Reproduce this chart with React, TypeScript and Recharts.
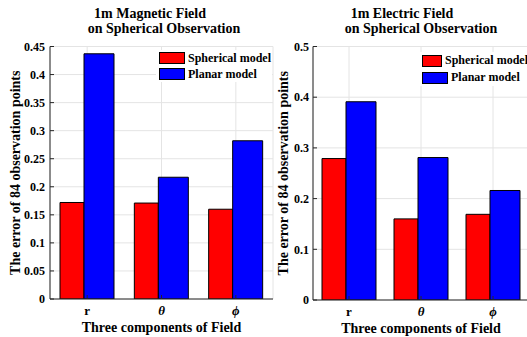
import React from 'react';
import { BarChart, Bar, XAxis, YAxis, CartesianGrid, Legend } from 'recharts';

const components = ['r', 'θ', 'ϕ'];
const seriesNames = ['Spherical model', 'Planar model'];
const magneticSpherical = [0.172, 0.171, 0.16];
const magneticPlanar = [0.437, 0.217, 0.282];
const electricSpherical = [0.279, 0.16, 0.169];
const electricPlanar = [0.391, 0.281, 0.216];
const magneticTicks = [0, 0.05, 0.1, 0.15, 0.2, 0.25, 0.3, 0.35, 0.4, 0.45];
const electricTicks = [0, 0.1, 0.2, 0.3, 0.4, 0.5];
const magneticTitle = ['1m Magnetic Field', 'on Spherical Observation'];
const electricTitle = ['1m Electric Field', 'on Spherical Observation'];
const yLabel = 'The error of 84 observation points';
const xLabel = 'Three components of Field';

const FONT = "'Liberation Serif', 'Times New Roman', serif";
const AXIS = '#262626';

const buildData = (sph: number[], pla: number[]) =>
  components.map((name, i) => ({ name, spherical: sph[i], planar: pla[i] }));

const XTick = (props: any) => {
  const { x, y, payload } = props;
  const greek = payload.value !== 'r';
  return (
    <text x={x} y={y} dy="0.71em" textAnchor="middle" fontFamily={FONT} fontWeight="bold"
      fontSize={13} fontStyle={greek ? 'italic' : 'normal'} fill="#000">
      {payload.value}
    </text>
  );
};

interface PanelProps {
  left: number;
  width: number;
  data: any[];
  ticks: number[];
  title: string[];
  titleX: number[];
  yLabelX: number;
  tickMargin: number;
  legendTop: number;
  legendRow: number;
  plotBottom: number;
}

const Panel: React.FC<PanelProps> = ({ left, width, data, ticks, title, titleX, yLabelX, tickMargin, legendTop, legendRow, plotBottom }) => {
  const top = ticks[ticks.length - 1];

  const renderLegend = (props: any) => {
    const items = [...(props.payload || [])].sort(
      (a: any, b: any) => seriesNames.indexOf(a.value) - seriesNames.indexOf(b.value)
    );
    return (
      <div style={{ background: '#fff', fontFamily: FONT, fontWeight: 'bold', fontSize: 12, color: '#000', paddingLeft: 3 }}>
        {items.map((entry: any) => (
          <div key={entry.value} style={{ display: 'flex', alignItems: 'center', height: legendRow, whiteSpace: 'nowrap' }}>
            <span style={{ display: 'inline-block', width: 26, height: 12, background: entry.color, border: '1px solid #000', boxSizing: 'border-box', marginRight: 3 }} />
            <span>{entry.value}</span>
          </div>
        ))}
      </div>
    );
  };

  const YTitle = (p: any) => {
    const cy = p.viewBox.y + p.viewBox.height / 2;
    return (
      <text x={yLabelX} y={cy} transform={`rotate(-90, ${yLabelX}, ${cy})`} textAnchor="middle"
        dominantBaseline="central" fontFamily={FONT} fontWeight="bold" fontSize={14} fill="#000">
        {yLabel}
      </text>
    );
  };

  const XTitle = (p: any) => (
    <text x={p.viewBox.x + p.viewBox.width / 2} y={p.viewBox.y + 33} textAnchor="middle"
      fontFamily={FONT} fontWeight="bold" fontSize={14} fill="#000">
      {xLabel}
    </text>
  );

  return (
    <div style={{ position: 'absolute', left, top: 0 }}>
      <svg width={width} height={40} style={{ position: 'absolute', left: 0, top: 0 }}>
        <g fontFamily={FONT} fontWeight="bold" fontSize={14} fill="#000">
          <text x={titleX[0]} y={18} textAnchor="middle">{title[0]}</text>
          <text x={titleX[1]} y={33} textAnchor="middle">{title[1]}</text>
        </g>
      </svg>
      <BarChart width={width} height={337} data={data} barGap={0}
        margin={{ top: 46.5, right: 1, bottom: 0, left: 0 }}>
        <CartesianGrid stroke="#e4e4e4" />
        <XAxis dataKey="name" height={337 - plotBottom} tickSize={-4} tickMargin={11} tick={XTick}
          axisLine={{ stroke: AXIS }} tickLine={{ stroke: AXIS }} label={{ content: XTitle }} />
        <XAxis xAxisId="top" orientation="top" dataKey="name" height={0} tickSize={-4} tick={false}
          axisLine={{ stroke: AXIS }} tickLine={{ stroke: AXIS }} />
        <YAxis width={50} domain={[0, top]} ticks={ticks} interval={0} allowDataOverflow
          tickSize={-4} tickMargin={tickMargin} axisLine={{ stroke: AXIS }} tickLine={{ stroke: AXIS }}
          tick={{ fill: '#000', fontFamily: FONT, fontWeight: 'bold', fontSize: 12 }}
          label={{ content: YTitle }} />
        <YAxis yAxisId="right" orientation="right" width={0} domain={[0, top]} ticks={ticks} interval={0}
          allowDataOverflow tickSize={-4} tick={false} axisLine={{ stroke: AXIS }} tickLine={{ stroke: AXIS }} />
        <Legend layout="vertical" align="center" verticalAlign="middle" content={renderLegend}
          wrapperStyle={{ left: 156, top: legendTop, width: width - 156 - 2 }} />
        <Bar dataKey="spherical" name={seriesNames[0]} fill="#ff0000" stroke="#000" strokeWidth={1}
          barSize={24} isAnimationActive={false} />
        <Bar dataKey="planar" name={seriesNames[1]} fill="#0000ff" stroke="#000" strokeWidth={1}
          barSize={30} isAnimationActive={false} />
      </BarChart>
    </div>
  );
};

export default function App() {
  return (
    <div style={{ position: 'absolute', left: 0, top: 0, width: 527, height: 337, overflow: 'hidden', background: '#fff' }}>
      <Panel left={0} width={274} data={buildData(magneticSpherical, magneticPlanar)} ticks={magneticTicks}
        title={magneticTitle} titleX={[150, 164]} yLabelX={15} tickMargin={9}
        legendTop={50} legendRow={16} plotBottom={299} />
      <Panel left={263} width={267} data={buildData(electricSpherical, electricPlanar)} ticks={electricTicks}
        title={electricTitle} titleX={[139, 158]} yLabelX={20} tickMargin={8}
        legendTop={52} legendRow={17} plotBottom={300} />
    </div>
  );
}
